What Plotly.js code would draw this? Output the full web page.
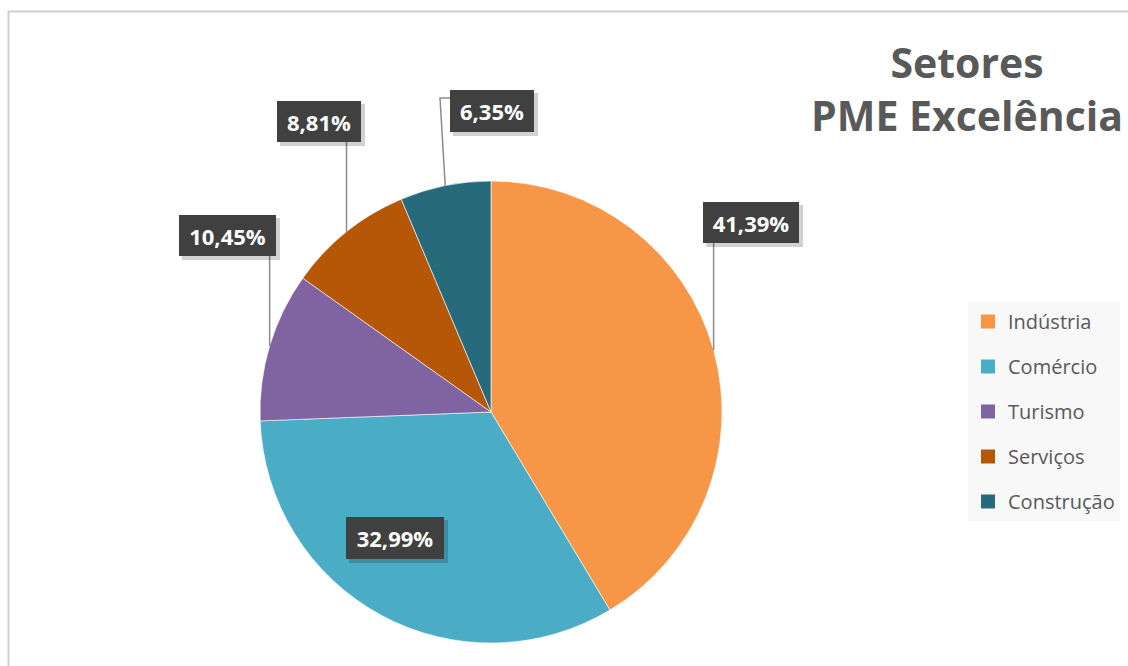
<!DOCTYPE html>
<html>
<head>
<meta charset="utf-8">
<script src="https://cdn.plot.ly/plotly-3.0.1.min.js"></script>
<style>
  html, body { margin: 0; padding: 0; background: #fff; }
  #chart { width: 1128px; height: 666px; }
</style>
</head>
<body>
<div id="chart"></div>
<script>
// --- dados do gráfico ---
const setores = ['Indústria', 'Comércio', 'Turismo', 'Serviços', 'Construção'];
const percentuais = [41.39, 32.99, 10.45, 8.81, 6.35];
const cores = ['#F79646', '#4BACC6', '#8064A2', '#B65708', '#276A7C'];

// --- layout (pixels) ---
const W = 1128, H = 666;
const PIE = { cx: 491, cy: 412, r: 231 };
// caixa de cada rótulo: centro, tamanho e tipo de linha de chamada
const caixas = [
  { cx: 751, cy: 222.5, w: 96, h: 41, linha: 'vertical' },
  { cx: 395, cy: 538, w: 98, h: 42, linha: 'nenhuma' },
  { cx: 227.5, cy: 235.5, w: 97, h: 41, linha: 'vertical' },
  { cx: 319, cy: 121.5, w: 84, h: 41, linha: 'vertical' },
  { cx: 492, cy: 111, w: 84, h: 42, linha: 'cotovelo', ex: 440, ey: 98 }
];

const fx = px => px / W;
const fy = py => 1 - py / H;

const total = percentuais.reduce((a, b) => a + b, 0);
const fmt = v => (v / total * 100).toFixed(2).replace('.', ',') + '%';

// ponto na borda da fatia (ângulo médio), sentido horário a partir do topo
function pontoBorda(i) {
  let acum = 0;
  for (let k = 0; k < i; k++) acum += percentuais[k];
  const ang = 2 * Math.PI * (acum + percentuais[i] / 2) / total;
  return { x: PIE.cx + PIE.r * Math.sin(ang), y: PIE.cy - PIE.r * Math.cos(ang) };
}

const annotations = [];
const shapes = [];

// moldura do gráfico
shapes.push({
  type: 'rect', xref: 'paper', yref: 'paper', layer: 'below',
  x0: fx(8.5), x1: fx(1140), y0: fy(680), y1: fy(11.5),
  line: { color: '#cfcfcf', width: 2 }, fillcolor: 'rgba(0,0,0,0)'
});

percentuais.forEach((v, i) => {
  const c = caixas[i];
  const p = pontoBorda(i);
  const base = c.cy + c.h / 2;

  if (c.linha === 'vertical') {
    shapes.push({
      type: 'path', xref: 'paper', yref: 'paper', layer: 'above',
      path: `M ${fx(p.x)},${fy(p.y)} L ${fx(p.x)},${fy(base)}`,
      line: { color: '#8c8c8c', width: 1.5 }
    });
  } else if (c.linha === 'cotovelo') {
    shapes.push({
      type: 'path', xref: 'paper', yref: 'paper', layer: 'above',
      path: `M ${fx(p.x)},${fy(p.y)} L ${fx(c.ex)},${fy(c.ey)} L ${fx(c.cx - c.w / 2)},${fy(c.ey)}`,
      line: { color: '#8c8c8c', width: 1.5 }
    });
  }

  // sombra da caixa
  shapes.push({
    type: 'rect', xref: 'paper', yref: 'paper', layer: 'above',
    x0: fx(c.cx - c.w / 2 + 3), x1: fx(c.cx + c.w / 2 + 4),
    y0: fy(c.cy + c.h / 2 + 4), y1: fy(c.cy - c.h / 2 + 3),
    fillcolor: 'rgba(0,0,0,0.18)', line: { width: 0 }
  });

  annotations.push({
    text: fmt(v), xref: 'paper', yref: 'paper',
    x: fx(c.cx), y: fy(c.cy), xanchor: 'center', yanchor: 'middle',
    showarrow: false, bgcolor: '#404040', borderwidth: 0, borderpad: 0,
    width: c.w, height: c.h,
    font: { family: 'Open Sans', size: 22, color: '#ffffff', weight: 700 }
  });
});

const pizza = {
  type: 'pie',
  values: percentuais,
  labels: setores,
  sort: false,
  direction: 'clockwise',
  rotation: 0,
  textinfo: 'none',
  hoverinfo: 'skip',
  showlegend: false,
  marker: { colors: cores, line: { color: 'rgba(255,255,255,0.6)', width: 1 } },
  domain: {
    x: [fx(PIE.cx - PIE.r), fx(PIE.cx + PIE.r)],
    y: [fy(PIE.cy + PIE.r), fy(PIE.cy - PIE.r)]
  }
};

// entradas da legenda (uma por setor, para controlar o espaçamento)
const legendas = setores.map((s, i) => ({
  type: 'scatter', mode: 'markers', x: [null], y: [null],
  name: s, legendgroup: s, showlegend: true, hoverinfo: 'skip',
  marker: { symbol: 'square', size: 14, color: cores[i] }
}));

const layout = {
  width: W, height: H,
  margin: { l: 0, r: 0, t: 0, b: 0 },
  paper_bgcolor: '#ffffff', plot_bgcolor: 'rgba(0,0,0,0)',
  font: { family: 'Open Sans', color: '#595959' },
  title: {
    text: 'Setores<br>PME Excelência',
    font: { family: 'Open Sans', size: 41, color: '#595959', weight: 700 },
    x: fx(967), xanchor: 'center', xref: 'container',
    y: fy(78), yanchor: 'top', yref: 'container'
  },
  xaxis: { visible: false }, yaxis: { visible: false },
  showlegend: true,
  legend: {
    x: fx(968), y: fy(302), xanchor: 'left', yanchor: 'top',
    bgcolor: '#f8f8f8', borderwidth: 0,
    font: { family: 'Open Sans', size: 20, color: '#595959' },
    tracegroupgap: 16, itemwidth: 30
  },
  hovermode: false,
  shapes: shapes,
  annotations: annotations
};

Plotly.newPlot('chart', [pizza, ...legendas], layout, { displayModeBar: false, staticPlot: true });
</script>
</body>
</html>
